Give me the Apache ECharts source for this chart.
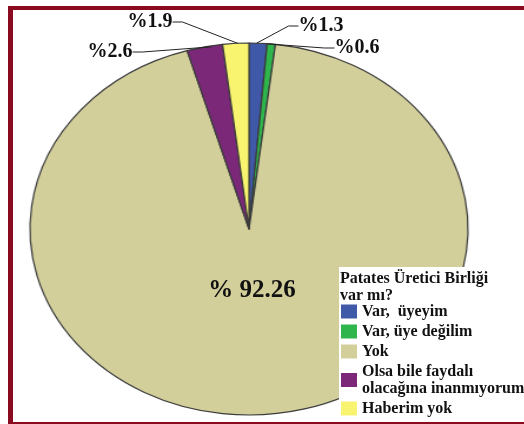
<!DOCTYPE html>
<html><head><meta charset="utf-8">
<script src="https://cdn.jsdelivr.net/npm/echarts@6/dist/echarts.min.js"></script>
<style>
html,body{margin:0;padding:0;width:524px;height:424px;overflow:hidden;background:#fff}
#wrap{position:relative;width:524px;height:424px;overflow:hidden}
#pie,#over{position:absolute;left:0;top:0;width:524px;height:424px}
#pie{transform:scaleX(1.1774);transform-origin:249px 229px}
#frame{position:absolute;left:8px;top:6px;width:511px;height:412px;border-top:4px solid #8A0A1F;border-left:5px solid #8A0A1F;border-bottom:3px solid #8A0A1F;pointer-events:none}
</style></head><body>
<div id="wrap"><div id="pie"></div><div id="over"></div><div id="frame"></div></div>
<script>
// ---- data ----
const categories = ['Var,  üyeyim', 'Var, üye değilim', 'Yok', 'Olsa bile faydalı\nolacağına inanmıyorum', 'Haberim yok'];
const values = [1.3, 0.6, 92.26, 2.6, 1.9];
const sliceColors = ['#3F58A8', '#2EB54B', '#D3CF9B', '#7B2879', '#F8F470'];
const legendTitle = 'Patates Üretici Birliği\nvar mı?';

// ---- styling / layout ----
const F = "'Liberation Serif','DejaVu Serif',serif";
const CENTER = [249, 229];
const R = 186;
const labelSpots = { 0: [321, 26], 1: [357, 48], 2: [252, 291], 3: [110, 52], 4: [150, 22] };

const pieChart = echarts.init(document.getElementById('pie'));
pieChart.setOption({
  animation: false,
  backgroundColor: '#fff',
  series: [{
    type: 'pie', center: CENTER, radius: R, startAngle: 90, clockwise: true,
    avoidLabelOverlap: false, silent: true,
    label: { show: false }, labelLine: { show: false },
    itemStyle: { borderColor: '#3b3b3b', borderWidth: 1.2 },
    data: categories.map((n, i) => ({ name: n, value: values[i], itemStyle: { color: sliceColors[i] } }))
  }]
});

const over = echarts.init(document.getElementById('over'));
over.setOption({
  animation: false,
  title: {
    text: legendTitle, left: 340, top: 270, padding: 0, z: 10,
    textStyle: { fontFamily: F, fontWeight: 'bold', fontSize: 16, lineHeight: 17, color: '#111' }
  },
  legend: {
    orient: 'vertical', left: 339, top: 267, padding: [36, 40, 2, 2],
    backgroundColor: '#fff', itemWidth: 16, itemHeight: 14, itemGap: 3,
    icon: 'rect', selectedMode: false, z: 5,
    textStyle: { fontFamily: F, fontWeight: 'bold', fontSize: 16, lineHeight: 17, color: '#111' },
    data: categories.map((n, i) => ({ name: n, itemStyle: { color: sliceColors[i], borderWidth: 0, opacity: 1 } }))
  },
  series: [{
    type: 'pie', center: CENTER, radius: R, startAngle: 90, clockwise: true,
    avoidLabelOverlap: false, silent: true,
    itemStyle: { color: 'rgba(0,0,0,0)', borderWidth: 0 },
    label: {
      show: true, fontFamily: F, fontWeight: 'bold', fontSize: 20, color: '#111',
      formatter: p => (p.dataIndex === 2 ? '% ' : '%') + p.value
    },
    labelLine: { show: true, length: 10, length2: 10, lineStyle: { color: '#222', width: 1 } },
    labelLayout: p => {
      const s = labelSpots[p.dataIndex];
      return { x: s[0], y: s[1], align: 'center', verticalAlign: 'middle' };
    },
    data: categories.map((n, i) => i === 2
      ? { name: n, value: values[i], label: { fontSize: 25 }, labelLine: { show: false } }
      : { name: n, value: values[i] })
  }]
});
</script>
</body></html>
